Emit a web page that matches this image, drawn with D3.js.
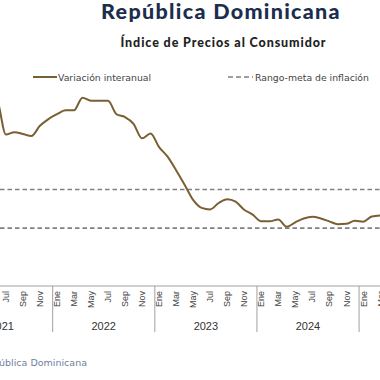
<!DOCTYPE html>
<html><head><meta charset="utf-8">
<script src="https://cdn.jsdelivr.net/npm/d3@7"></script>
<style>
html,body{margin:0;padding:0;background:#fff;overflow:hidden;}
svg{display:block;}
</style></head>
<body>
<svg id="c" width="380" height="380"></svg>
<script>
const title = "República Dominicana";
const subtitle = "Índice de Precios al Consumidor";
const seriesName = "Variación interanual";
const bandName = "Rango-meta de inflación";
const source = "Fuente: Banco Central de la República Dominicana";
const monthNames = ["Ene","Feb","Mar","Abr","May","Jun","Jul","Ago","Sep","Oct","Nov","Dic"];
// months from May 2021 to Mar 2025
const startYear = 2021, startMonth = 4;
const inflation = [
  10.0, 9.6, 7.85, 7.97, 7.88, 7.77, 8.3, 8.65,          // May-Dec 2021
  8.9, 9.1, 9.1, 9.76, 9.6, 9.6, 9.6, 8.9, 8.75, 8.4, 7.65, 7.9, // 2022
  7.2, 6.7, 6.0, 5.25, 4.46, 4.05, 3.97, 4.3, 4.5, 4.37, 3.95, 3.7, // 2023
  3.35, 3.35, 3.45, 3.07, 3.3, 3.5, 3.59, 3.5, 3.35, 3.2, 3.22, 3.38, // 2024
  3.33, 3.6, 3.65 // 2025
];
const targetRange = [3, 5];
const years = [2021, 2022, 2023, 2024, 2025];

const months = inflation.map((v, i) => {
  const t = startMonth + i;
  return {key: i, year: startYear + Math.floor(t / 12), m: t % 12, v};
});

const svg = d3.select("#c");
const x = d3.scaleBand().domain(months.map(d => d.key)).range([-15.4, 384.6]);
const y = d3.scaleLinear().domain([0, 10]).range([286, 93]);

// Title
svg.append("text").attr("x", 221).attr("y", 19).attr("text-anchor", "middle")
  .attr("font-family", "Lato, 'DejaVu Sans', sans-serif").attr("font-weight", 900)
  .attr("font-size", 21.5).attr("letter-spacing", 1.3).attr("fill", "#1c2e4d").text(title);
svg.append("text").attr("x", 223.5).attr("y", 47).attr("text-anchor", "middle")
  .attr("font-family", "Lato, 'DejaVu Sans', sans-serif").attr("font-weight", 900)
  .attr("font-size", 12.5).attr("letter-spacing", 0.9).attr("fill", "#222").text(subtitle);

// Legend
const lg = svg.append("g").attr("font-family", "'DejaVu Sans', sans-serif").attr("font-size", 9.3).attr("fill", "#444");
lg.append("line").attr("x1", 33).attr("x2", 57).attr("y1", 77).attr("y2", 77)
  .attr("stroke", "#7a5f33").attr("stroke-width", 2);
lg.append("text").attr("x", 58).attr("y", 80.5).text(seriesName);
lg.append("line").attr("x1", 228).attr("x2", 253).attr("y1", 77).attr("y2", 77)
  .attr("stroke", "#808080").attr("stroke-width", 1.5).attr("stroke-dasharray", "5,3");
lg.append("text").attr("x", 255).attr("y", 80.5).text(bandName);

// target range dashed lines
svg.append("g").selectAll("line").data(targetRange).join("line")
  .attr("x1", 0).attr("x2", 380).attr("y1", d => y(d)).attr("y2", d => y(d))
  .attr("stroke", "#808080").attr("stroke-width", 1.6).attr("stroke-dasharray", "4.5,3");

// series line
const line = d3.line().x(d => x(d.key) + x.bandwidth() / 2).y(d => y(d.v)).curve(d3.curveMonotoneX);
svg.append("path").datum(months).attr("d", line).attr("fill", "none")
  .attr("stroke", "#7a5f33").attr("stroke-width", 2);

// x axis
const axisY = y(0);
svg.append("line").attr("x1", 0).attr("x2", 380).attr("y1", axisY).attr("y2", axisY)
  .attr("stroke", "#a0a0a0").attr("stroke-width", 1);
const ml = svg.append("g").attr("font-family", "'Liberation Sans', Arial, sans-serif").attr("font-size", 9).attr("fill", "#444");
ml.selectAll("text").data(months.filter(d => d.m % 2 === 0)).join("text")
  .attr("transform", d => `translate(${x(d.key) + x.bandwidth() / 2 + 3.2},${axisY + 5}) rotate(-90)`)
  .attr("text-anchor", "end").text(d => monthNames[d.m]);
// year separators
const jan = months.filter(d => d.m === 0);
svg.append("g").selectAll("line").data(jan).join("line")
  .attr("x1", d => x(d.key)).attr("x2", d => x(d.key))
  .attr("y1", axisY).attr("y2", axisY + 46).attr("stroke", "#a0a0a0").attr("stroke-width", 1);
// year labels
const yl = svg.append("g").attr("font-family", "'Liberation Sans', Arial, sans-serif").attr("font-size", 11).attr("fill", "#333").attr("text-anchor", "middle");
const yearCenter = yr => {
  const ms = months.filter(d => d.year === yr);
  const firstIdx = ms[0].key - ms[0].m;
  return x.range()[0] + (firstIdx + 6) * x.step();
};
yl.selectAll("text").data(years).join("text")
  .attr("x", d => yearCenter(d)).attr("y", axisY + 44).text(d => d);

// source
svg.append("text").attr("x", 87).attr("y", 366).attr("text-anchor", "end")
  .attr("font-family", "'DejaVu Sans', sans-serif").attr("font-size", 9.5).attr("fill", "#6f7f9c").text(source);
</script>
</body></html>
